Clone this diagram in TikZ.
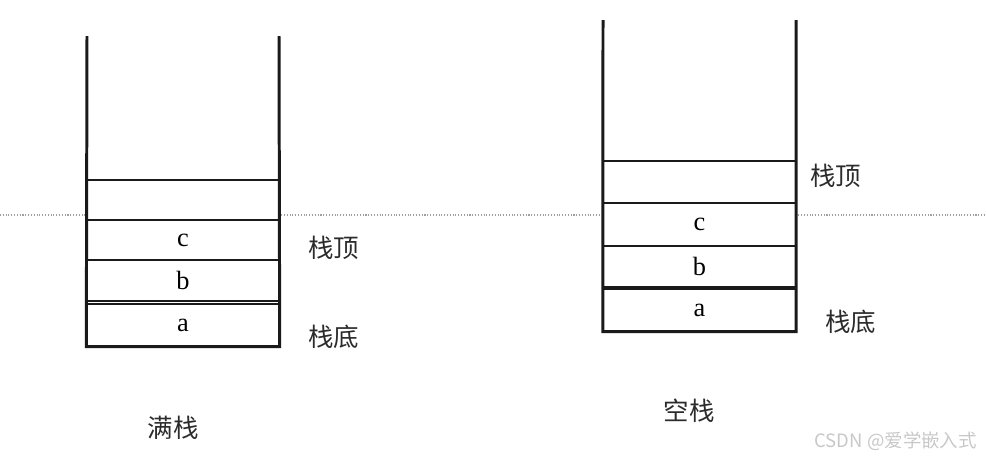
\documentclass[tikz,border=0pt]{standalone}
\usepackage{fontspec}
\setmainfont{Liberation Serif}
\newfontfamily\cjk{Noto Sans CJK SC}
\usepackage{tikz}
\usetikzlibrary{positioning}
\definecolor{stline}{HTML}{1A1A1A}
\definecolor{sttext}{HTML}{2B2B2B}
\definecolor{stguide}{HTML}{A0A0A0}
\definecolor{stmark}{HTML}{C8C8C8}

\begin{document}
\begin{tikzpicture}[
  x={(0.02cm,0)}, y={(0,-0.02cm)},
  wall/.style={draw=stline, line width=1.7pt, line join=miter},
  cell/.style={draw=stline, fill=white, line width=0.8pt, minimum width=3.84cm,
               inner sep=0pt, font=\fontsize{15}{16}\selectfont},
  tag/.style={anchor=west, text=sttext, font=\cjk\fontsize{14.5}{16}\selectfont},
  title/.style={text=sttext, font=\cjk\fontsize{14.5}{16}\selectfont},
]
  \useasboundingbox (0,0) rectangle (986,461);
  \draw[stguide, densely dotted, line width=0.6pt] (0,215) -- (986,215);

  % ---- full stack -------------------------------------------------------------
  \foreach \nm/\yc/\h/\txt in {fa/325/42/a, fb/280.5/41/b, fc/240/40/c, fd/200/40/{}} {
    \node[cell, minimum height=\h*0.02cm] (\nm) at (183,\yc) {\txt};
  }
  \draw[wall] (87,36) -- (fa.south west) -- (fa.south east) -- (279,36);
  \node[tag] (ftop) at (302,248) {栈顶};
  \node[tag] (fbot) at (302,337) {栈底};
  \node[title] (fname) at (173,428) {满栈};

  % ---- empty stack ------------------------------------------------------------
  \foreach \nm/\yc/\h/\txt in {ea/310/42/a, eb/266.5/41/b, ec/224.5/43/c, ed/182/42/{}} {
    \node[cell, minimum height=\h*0.02cm] (\nm) at (699.5,\yc) {\txt};
  }
  \draw[wall] (603,20) -- (ea.south west) -- (ea.south east) -- (796,20);
  \node[tag] (etop) at (804,176) {栈顶};
  \node[tag] (ebot) at (819,322) {栈底};
  \node[title] (ename) at (689,411) {空栈};

  \node[anchor=east, text=stmark, font=\cjk\fontsize{10.5}{12}\selectfont]
    (mark) at (983,441) {CSDN @爱学嵌入式};
\end{tikzpicture}
\end{document}
